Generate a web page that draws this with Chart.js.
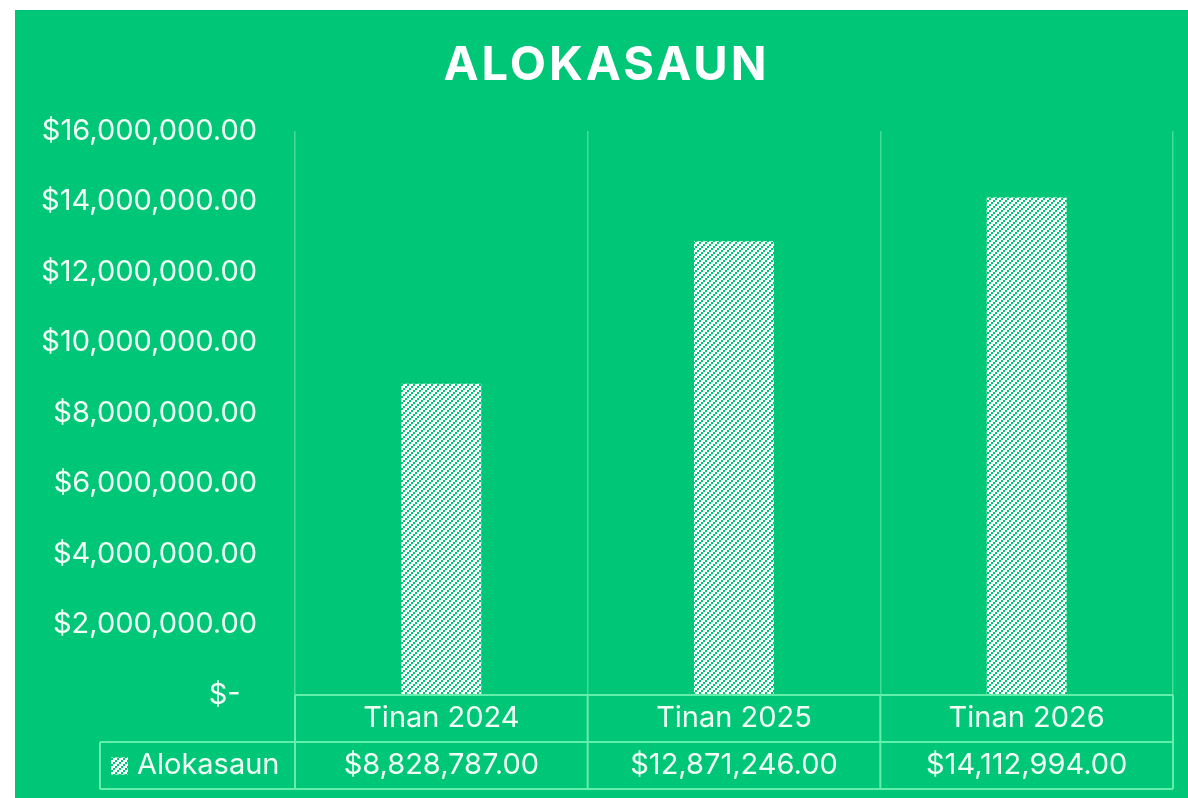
<!DOCTYPE html>
<html>
<head>
<meta charset="utf-8">
<script src="https://cdn.jsdelivr.net/npm/chart.js@4"></script>
<style>
  body { margin: 0; background: #ffffff; }
  #wrap { position: absolute; left: 15px; top: 10px; width: 1173px; height: 788px; background: #00c777; }
</style>
</head>
<body>
<div id="wrap"><canvas id="myChart" width="1173" height="788"></canvas></div>
<script>
const title = 'ALOKASAUN';
const seriesName = 'Alokasaun';
const categories = ['Tinan 2024', 'Tinan 2025', 'Tinan 2026'];
const values = [8828787, 12871246, 14112994];
const valueLabels = ['$8,828,787.00', '$12,871,246.00', '$14,112,994.00'];

const green = '#00c777';
const lineColor = '#63eeab';
const textColor = '#f2fff7';
const font = 'Inter, "Open Sans", sans-serif';

function makeHatch() 
{
    const c = document.createElement('canvas');
    c.width = 6; c.height = 6;
    const g = c.getContext('2d');
    g.fillStyle = '#ffffff';
    g.fillRect(0, 0, 6, 6);
    g.fillStyle = green;
    g.fillRect(4, 0, 2, 2);
    g.fillRect(2, 2, 2, 2);
    g.fillRect(0, 4, 2, 2);
    return g.createPattern(c, 'repeat');
}

function money(v) 
{
    // accounting style: zero shows as a dash, set in from the right
    if (v === 0) return '$-  ';
    return '$' + v.toLocaleString('en-US', {minimumFractionDigits: 2, maximumFractionDigits: 2});
}

const hatch = makeHatch();

const tablePlugin = {
    id: 'tablePlugin',
    afterDraw(chart) 
    {
        const ctx = chart.ctx;
        const area = chart.chartArea;
        const x = chart.scales.x;
        const rowH = 47;
        const top = area.bottom;
        const legendLeft = 85;
        const step = x.getPixelForValue(1) - x.getPixelForValue(0);
        const edges = categories.map((c, i) => x.getPixelForValue(i) - step / 2);
        edges.push(x.getPixelForValue(categories.length - 1) + step / 2);

        ctx.save();
        ctx.strokeStyle = lineColor;
        ctx.lineWidth = 2;
        ctx.beginPath();
        ctx.moveTo(area.left, top); ctx.lineTo(area.right, top);
        ctx.moveTo(legendLeft, top + rowH); ctx.lineTo(area.right, top + rowH);
        ctx.moveTo(legendLeft, top + rowH * 2); ctx.lineTo(area.right, top + rowH * 2);
        ctx.moveTo(legendLeft, top + rowH); ctx.lineTo(legendLeft, top + rowH * 2);
        edges.forEach((e) => { ctx.moveTo(e, top); ctx.lineTo(e, top + rowH * 2); });
        ctx.stroke();

        ctx.fillStyle = textColor;
        ctx.font = '29px ' + font;
        ctx.textAlign = 'center';
        ctx.textBaseline = 'middle';
        categories.forEach((c, i) => 
        {
            ctx.fillText(c, x.getPixelForValue(i), top + rowH / 2);
            ctx.fillText(valueLabels[i], x.getPixelForValue(i), top + rowH * 1.5);
        });

        ctx.fillStyle = hatch;
        ctx.fillRect(legendLeft + 11, top + rowH * 1.5 - 8, 17, 17);
        ctx.fillStyle = textColor;
        ctx.textAlign = 'left';
        ctx.fillText(seriesName, legendLeft + 37, top + rowH * 1.5);

        ctx.font = 'bold 47px ' + font;
        ctx.textAlign = 'center';
        ctx.fillStyle = '#ffffff';
        ctx.letterSpacing = '3px';
        ctx.fillText(title, chart.width / 2 + 5, 56);
        ctx.restore();
    }
};

new Chart(document.getElementById('myChart'), 
{
    type: 'bar',
    data: 
    {
        labels: categories,
        datasets: 
        [{
            label: seriesName,
            data: values,
            backgroundColor: hatch,
            borderWidth: 0,
            categoryPercentage: 1,
            barPercentage: 0.273
        }]
    },
    options: 
    {
        responsive: false,
        animation: false,
        layout: {padding: {top: 121, right: 15, left: 0, bottom: 0}},
        plugins: {legend: {display: false}, title: {display: false}, tooltip: {enabled: false}},
        scales: 
        {
            x: 
            {
                ticks: {display: false},
                border: {display: false},
                grid: {color: 'rgba(120,240,180,0.55)', lineWidth: 1.5, drawTicks: false, offset: true},
                afterFit: (s) => { s.height = 103; }
            },
            y: 
            {
                min: 0,
                max: 16000000,
                ticks: 
                {
                    stepSize: 2000000,
                    color: textColor,
                    font: {family: font, size: 29},
                    padding: 38,
                    callback: (v) => money(v)
                },
                border: {display: false},
                grid: {display: false, drawTicks: false},
                afterFit: (s) => { s.width = 280; }
            }
        }
    },
    plugins: [tablePlugin]
});
</script>
</body>
</html>
